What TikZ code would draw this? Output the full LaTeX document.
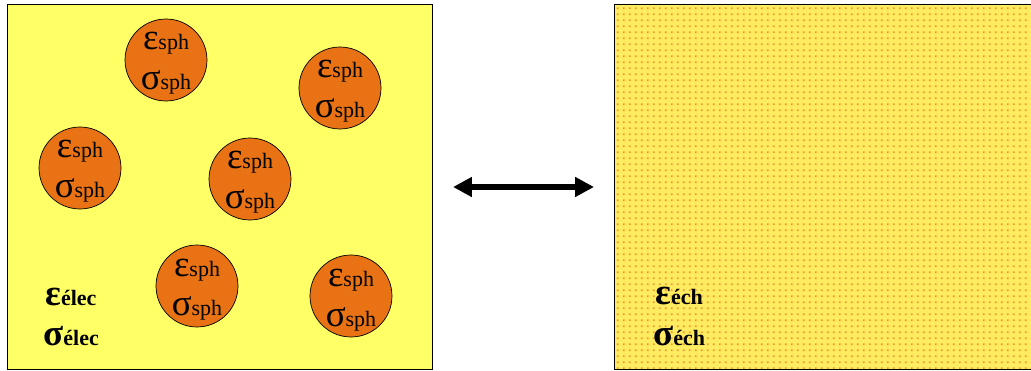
\documentclass[tikz,border=0pt]{standalone}
\usepackage{fontspec}
\setmainfont{Liberation Serif}
\usetikzlibrary{arrows.meta,patterns.meta}

\definecolor{fondjaune}{RGB}{255,255,102}
\definecolor{sphorange}{RGB}{232,114,20}
\definecolor{echjaune}{RGB}{255,236,96}
\definecolor{echpoint}{RGB}{246,150,50}

\newcommand{\grand}[1]{{\fontsize{21}{21}\selectfont #1}}
\newcommand{\petit}[1]{{\fontsize{12.5}{12.5}\selectfont #1}}

\tikzdeclarepattern{name=pointsech, type=uncolored,
    bounding box={(0pt,0pt) and (3.4pt,3.4pt)},
    tile size={(3.4pt,3.4pt)},
    code={\fill (1pt,1pt) rectangle (2.1pt,2.1pt);}}

\begin{document}
\begin{tikzpicture}[x=0.02cm, y=-0.02cm,
    sph/.style={circle, draw=black, fill=sphorange, minimum size=1.64cm, inner sep=0pt},
    lab/.style={anchor=base, inner sep=0pt},
    milieu/.style={anchor=base west, inner sep=0pt, font=\bfseries}]
\useasboundingbox (0,0) rectangle (1031,371);
% milieu heterogene
\draw[fill=fondjaune] (7,4) rectangle (432,369);
\foreach \n/\x/\y in {a/166/60, b/340/88, c/80/168, d/250/179, e/197/286, f/351/296} {
    \node[sph] (\n) at (\x,\y) {};
    \node[lab] (\n-eps) at (\x,\y-10) {\grand{ε}\petit{sph}};
    \node[lab] (\n-sig) at (\x,\y+30) {\grand{σ}\petit{sph}};
}
\node[milieu] (epselec) at (45,305) {\grand{ε}\petit{élec}};
\node[milieu] (sigelec) at (43,345) {\grand{σ}\petit{élec}};
% milieu equivalent
\fill[echjaune] (614,4) rectangle (1040,369);
\fill[pattern=pointsech, pattern color=echpoint] (614,4) rectangle (1040,369);
\draw (614,4) rectangle (1040,369);
\node[milieu] (epsech) at (655,304) {\grand{ε}\petit{éch}};
\node[milieu] (sigech) at (653,345) {\grand{σ}\petit{éch}};
% equivalence
\coordinate (g) at (453,187);
\coordinate (d) at (594,187);
\draw[line width=3.4pt, {Triangle[length=10.8pt,width=10.8pt]}-{Triangle[length=10.8pt,width=10.8pt]}] (g) -- (d);
\end{tikzpicture}
\end{document}
